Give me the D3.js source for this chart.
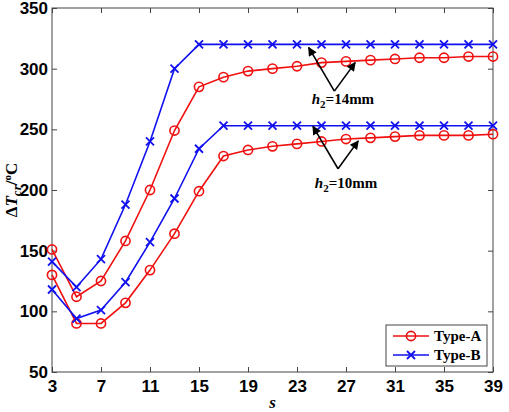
<!DOCTYPE html>
<html>
<head>
<meta charset="utf-8">
<script src="https://cdn.jsdelivr.net/npm/d3@7"></script>
<style>
  body { margin: 0; background: #fff; }
  svg { display: block; font-family: "Liberation Serif", "Times New Roman", serif; }
</style>
</head>
<body>
<div id="chart"></div>
<script>
// s values (x axis)
const sValues = [3, 5, 7, 9, 11, 13, 15, 17, 19, 21, 23, 25, 27, 29, 31, 33, 35, 37, 39];

// Type-A, h2 = 14mm and 10mm
const typeA14 = [151, 112, 125, 158, 200, 249, 285, 293, 298, 300, 302, 305, 306, 307, 308, 309, 309, 310, 310];
const typeA10 = [130, 90, 90, 107, 134, 164, 199, 228, 233, 236, 238, 240, 242, 243, 244, 245, 245, 245, 246];
// Type-B, h2 = 14mm and 10mm
const typeB14 = [141, 120, 143, 188, 240, 300, 320, 320, 320, 320, 320, 320, 320, 320, 320, 320, 320, 320, 320];
const typeB10 = [118, 94, 101, 124, 157, 193, 234, 253, 253, 253, 253, 253, 253, 253, 253, 253, 253, 253, 253];

const xTicks = [3, 7, 11, 15, 19, 23, 27, 31, 35, 39];
const yTicks = [50, 100, 150, 200, 250, 300, 350];

const width = 509, height = 412;
const margin = {top: 8, right: 16, bottom: 40, left: 52};

const svg = d3.select("#chart").append("svg")
    .attr("width", width)
    .attr("height", height);

const x = d3.scaleLinear().domain([3, 39]).range([margin.left, width - margin.right]);
const y = d3.scaleLinear().domain([50, 350]).range([height - margin.bottom, margin.top]);

const axisColor = "#444";

// frame
svg.append("rect")
    .attr("x", x(3)).attr("y", y(350))
    .attr("width", x(39) - x(3)).attr("height", y(50) - y(350))
    .attr("fill", "none").attr("stroke", axisColor).attr("stroke-width", 1);

// axes (ticks inward, mirrored top/right)
function styleAxis(g) {
  g.select(".domain").remove();
  g.selectAll(".tick line").attr("stroke", axisColor);
  g.selectAll(".tick text")
      .attr("fill", "#000")
      .style("font-size", "17px")
      .style("font-weight", "bold");
}

svg.append("g")
    .attr("transform", `translate(0,${y(50)})`)
    .call(d3.axisBottom(x).tickValues(xTicks).tickSizeInner(-5).tickPadding(8))
    .call(styleAxis);
svg.append("g")
    .attr("transform", `translate(0,${y(350)})`)
    .call(d3.axisTop(x).tickValues(xTicks).tickSizeInner(-5).tickFormat(""))
    .call(styleAxis);
svg.append("g")
    .attr("transform", `translate(${x(3)},0)`)
    .call(d3.axisLeft(y).tickValues(yTicks).tickSizeInner(-5).tickPadding(4))
    .call(styleAxis);
svg.append("g")
    .attr("transform", `translate(${x(39)},0)`)
    .call(d3.axisRight(y).tickValues(yTicks).tickSizeInner(-5).tickFormat(""))
    .call(styleAxis);

// series
const series = [
  {values: typeA14, color: "#f01010", marker: "o"},
  {values: typeA10, color: "#f01010", marker: "o"},
  {values: typeB14, color: "#1010f0", marker: "x"},
  {values: typeB10, color: "#1010f0", marker: "x"}
];

const line = d3.line().x(d => x(d[0])).y(d => y(d[1]));

function drawMarker(g, type, color) {
  if (type === "o") {
    g.append("circle").attr("r", 4.6)
        .attr("fill", "none").attr("stroke", color).attr("stroke-width", 1.6);
  } else {
    const s = 4;
    g.append("path").attr("d", `M${-s},${-s}L${s},${s}M${-s},${s}L${s},${-s}`)
        .attr("stroke", color).attr("stroke-width", 1.8);
  }
}

series.forEach(sr => {
  const pts = sValues.map((s, i) => [s, sr.values[i]]);
  svg.append("path")
      .datum(pts)
      .attr("fill", "none")
      .attr("stroke", sr.color)
      .attr("stroke-width", 1.6)
      .attr("d", line);
  pts.forEach(p => {
    const g = svg.append("g").attr("transform", `translate(${x(p[0])},${y(p[1])})`);
    drawMarker(g, sr.marker, sr.color);
  });
});

// annotations
svg.append("defs").append("marker")
    .attr("id", "arrow")
    .attr("viewBox", "0 0 10 10")
    .attr("refX", 9).attr("refY", 5)
    .attr("markerWidth", 11).attr("markerHeight", 9)
    .attr("markerUnits", "userSpaceOnUse")
    .attr("orient", "auto")
  .append("path")
    .attr("d", "M0,0L10,5L0,10z")
    .attr("fill", "#000");

const annotations = [
  {label: "14mm", apex: [26.05, 281.5], tips: [[23.95, 317.5], [27.75, 305]], textPos: [26.75, 271]},
  {label: "10mm", apex: [26.35, 217.5], tips: [[24.3, 252.5], [28.0, 240.5]], textPos: [27.0, 202]}
];

annotations.forEach(a => {
  a.tips.forEach(t => {
    svg.append("line")
        .attr("x1", x(a.apex[0])).attr("y1", y(a.apex[1]))
        .attr("x2", x(t[0])).attr("y2", y(t[1]))
        .attr("stroke", "#000").attr("stroke-width", 1.6)
        .attr("marker-end", "url(#arrow)");
  });
  const t = svg.append("text")
      .attr("x", x(a.textPos[0]))
      .attr("y", y(a.textPos[1]))
      .attr("text-anchor", "middle")
      .style("font-size", "15px")
      .style("font-weight", "bold");
  t.append("tspan").style("font-style", "italic").text("h");
  t.append("tspan").attr("dy", 4).style("font-size", "11px").text("2");
  t.append("tspan").attr("dy", -4).text("=" + a.label);
});

// axis titles
const yl = svg.append("text")
    .attr("transform", `translate(17,${(y(50) + y(350)) / 2}) rotate(-90)`)
    .attr("text-anchor", "middle")
    .style("font-size", "17px")
    .style("font-weight", "bold");
yl.append("tspan").text("Δ");
yl.append("tspan").style("font-style", "italic").text("T");
yl.append("tspan").attr("dy", 4).style("font-style", "italic").style("font-size", "13px").text("cr");
yl.append("tspan").attr("dy", -4).text("/");
yl.append("tspan").attr("dy", -6).style("font-size", "11px").text("o");
yl.append("tspan").attr("dy", 6).text("C");

svg.append("text")
    .attr("x", (x(3) + x(39)) / 2)
    .attr("y", 408)
    .attr("text-anchor", "middle")
    .style("font-size", "17px")
    .style("font-weight", "bold")
    .style("font-style", "italic")
    .text("s");

// legend
const legend = svg.append("g").attr("transform", "translate(386,325)");
legend.append("rect")
    .attr("width", 101).attr("height", 41)
    .attr("fill", "#fff").attr("stroke", axisColor).attr("stroke-width", 1);
const legendItems = [
  {name: "Type-A", color: "#f01010", marker: "o"},
  {name: "Type-B", color: "#1010f0", marker: "x"}
];
legendItems.forEach((d, i) => {
  const row = legend.append("g").attr("transform", `translate(0,${11 + i * 19})`);
  row.append("line").attr("x1", 7).attr("x2", 43)
      .attr("stroke", d.color).attr("stroke-width", 1.6);
  const m = row.append("g").attr("transform", "translate(25,0)");
  drawMarker(m, d.marker, d.color);
  row.append("text").attr("x", 48).attr("y", 5)
      .style("font-size", "15px").style("font-weight", "bold")
      .text(d.name);
});
</script>
</body>
</html>
